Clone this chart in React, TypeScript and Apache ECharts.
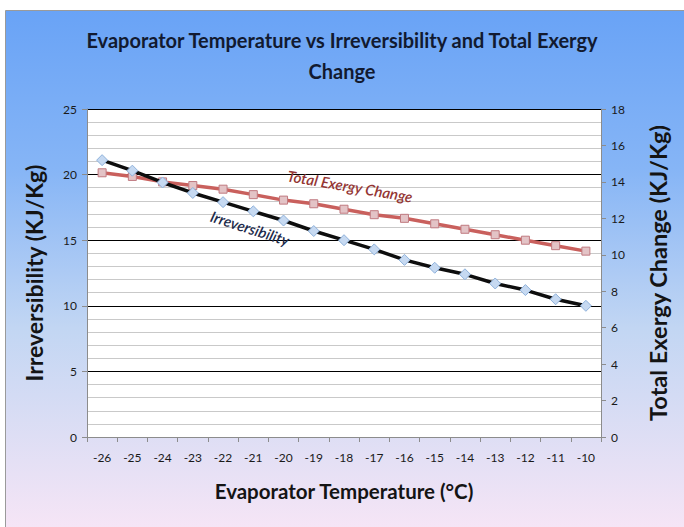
import React, { useEffect, useRef } from "react";
import * as echarts from "echarts";

const categories = ["-26", "-25", "-24", "-23", "-22", "-21", "-20", "-19", "-18", "-17", "-16", "-15", "-14", "-13", "-12", "-11", "-10"];
const irreversibility = [21.1, 20.3, 19.4, 18.6, 17.9, 17.2, 16.5, 15.7, 15.0, 14.3, 13.5, 12.9, 12.4, 11.7, 11.2, 10.5, 10.0];
const totalExergyChange = [14.5, 14.3, 14.0, 13.8, 13.6, 13.3, 13.0, 12.8, 12.5, 12.2, 12.0, 11.7, 11.4, 11.1, 10.8, 10.5, 10.2];

const FONT = "Lato, 'Open Sans', sans-serif";

export default function App() {
  const ref = useRef<HTMLDivElement>(null);
  useEffect(() => {
    if (!ref.current) return;
    const chart = echarts.init(ref.current, null, { renderer: "svg" });
    const axisGray = "#8c8c8c";
    chart.setOption({
      animation: false,
      textStyle: { fontFamily: FONT },
      graphic: [
        {
          type: "rect",
          z: -10,
          silent: true,
          shape: { x: 5.5, y: 10.5, width: 690, height: 530 },
          style: {
            fill: new echarts.graphic.LinearGradient(0, 0, 0, 1, [
              { offset: 0, color: "#69a3f6" },
              { offset: 0.3, color: "#86b5f6" },
              { offset: 0.6, color: "#c2d6f3" },
              { offset: 1, color: "#f9e6f6" },
            ]),
            stroke: "#9a9a9a",
            lineWidth: 1,
          },
        },
        {
          type: "text",
          x: 350,
          y: 186,
          rotation: -0.17,
          z: 10,
          style: {
            text: "Total Exergy Change",
            fill: "#943634",
            font: `italic 600 15px ${FONT}`,
            align: "center",
            verticalAlign: "middle",
          },
        },
        {
          type: "text",
          x: 250,
          y: 228,
          rotation: -0.31,
          z: 10,
          style: {
            text: "Irreversibility",
            fill: "#1c2a4a",
            font: `italic 600 15px ${FONT}`,
            align: "center",
            verticalAlign: "middle",
          },
        },
      ],
      title: {
        text: "Evaporator Temperature vs Irreversibility and Total Exergy\nChange",
        left: "center",
        top: 19,
        textStyle: {
          fontFamily: FONT,
          fontWeight: "bold",
          fontSize: 20,
          lineHeight: 31,
          color: "#121a30",
        },
      },
      grid: {
        left: 87,
        right: 83,
        top: 109,
        bottom: 90,
        show: true,
        backgroundColor: "#ffffff",
        borderWidth: 0,
      },
      xAxis: {
        type: "category",
        data: categories,
        boundaryGap: true,
        name: "Evaporator Temperature (°C)",
        nameLocation: "middle",
        nameGap: 43,
        nameTextStyle: { fontFamily: FONT, fontWeight: "bold", fontSize: 20.5, color: "#141414" },
        axisLine: { lineStyle: { color: axisGray } },
        axisTick: { show: true, alignWithLabel: false, length: 5, lineStyle: { color: axisGray } },
        axisLabel: { color: "#1a1a1a", fontSize: 12, margin: 14, interval: 0 },
        splitLine: { show: false },
      },
      yAxis: [
        {
          type: "value",
          min: 0,
          max: 25,
          interval: 5,
          name: "Irreversibility (KJ/Kg)",
          nameLocation: "middle",
          nameGap: 42,
          nameTextStyle: { fontFamily: FONT, fontWeight: "bold", fontSize: 23, color: "#141414" },
          axisLine: { show: true, lineStyle: { color: axisGray } },
          axisTick: { show: true, length: 5, lineStyle: { color: axisGray } },
          axisLabel: { color: "#1a1a1a", fontSize: 12, margin: 10 },
          splitLine: { show: true, lineStyle: { color: "#000000", width: 1.2 } },
          minorTick: { show: false, splitNumber: 5 },
          minorSplitLine: { show: true, lineStyle: { color: "#c9c9c9", width: 1 } },
        },
        {
          type: "value",
          min: 0,
          max: 18,
          interval: 2,
          position: "right",
          name: "Total Exergy Change (KJ/Kg)",
          nameLocation: "middle",
          nameGap: 45,
          nameTextStyle: { fontFamily: FONT, fontWeight: "bold", fontSize: 23.5, color: "#141414" },
          axisLine: { show: true, lineStyle: { color: axisGray } },
          axisTick: { show: true, length: 5, lineStyle: { color: axisGray } },
          axisLabel: { color: "#1a1a1a", fontSize: 12, margin: 10 },
          splitLine: { show: false },
        },
      ],
      series: [
        {
          name: "Irreversibility",
          type: "line",
          yAxisIndex: 0,
          data: irreversibility,
          symbol: "diamond",
          symbolSize: 11,
          lineStyle: { color: "#0d0d0d", width: 3.5 },
          itemStyle: { color: "#c6d9f1", borderColor: "#8eb1db", borderWidth: 1 },
          z: 3,
        },
        {
          name: "Total Exergy Change",
          type: "line",
          yAxisIndex: 1,
          data: totalExergyChange,
          symbol: "rect",
          symbolSize: 8,
          lineStyle: { color: "#c9605d", width: 3.5 },
          itemStyle: { color: "#e3c3c6", borderColor: "#c07a80", borderWidth: 1 },
          z: 2,
        },
      ],
    });
    return () => chart.dispose();
  }, []);
  return (
    <div
      ref={ref}
      style={{ position: "fixed", left: 0, top: 0, width: 684, height: 527, background: "#ffffff" }}
    />
  );
}
